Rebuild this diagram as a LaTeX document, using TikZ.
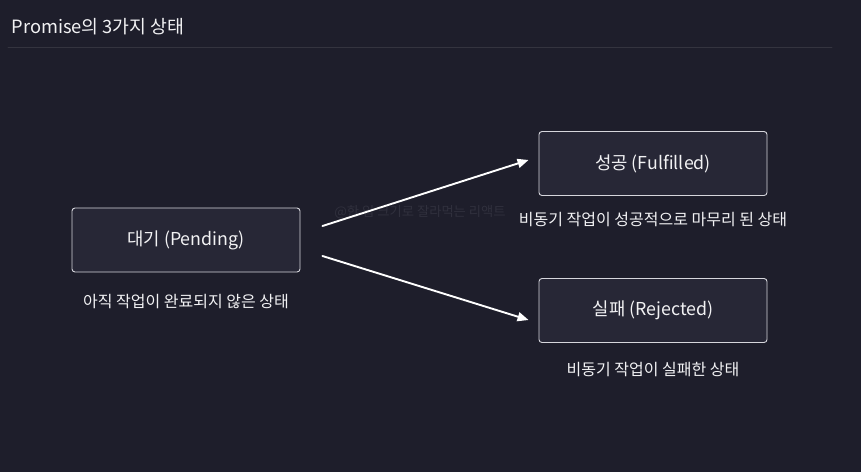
\documentclass[tikz,border=0pt]{standalone}
\usepackage{fontspec}
\setmainfont{Noto Sans CJK KR}
\usepackage{xcolor}
\usetikzlibrary{arrows.meta}
\definecolor{bgdark}{HTML}{1E1E2B}
\definecolor{boxfill}{HTML}{272736}
\definecolor{boxline}{HTML}{D6D6DC}
\definecolor{rulegray}{HTML}{34343F}
\definecolor{txt}{HTML}{F2F2F4}
\definecolor{mark}{HTML}{30303D}

\begin{document}
\begin{tikzpicture}[x=1pt, y=-1pt, line cap=round, line join=round,
  state/.style={draw=boxline, fill=boxfill, rounded corners=3pt, line width=0.9pt,
    minimum width=228pt, minimum height=64pt, text=txt,
    font=\fontsize{17.8}{21}\selectfont},
  note/.style={text=txt, font=\fontsize{16}{19}\selectfont},
  arr/.style={draw=white, line width=1.9pt, -{Triangle[length=11pt,width=9pt]}}]

% background
\fill[bgdark] (0,0) rectangle (861,472);

% header
\node[anchor=west, text=txt, font=\fontsize{18.3}{22}\selectfont] (title) at (8,27) {Promise의 3가지 상태};
\draw[rulegray, line width=0.8pt] (8,47) -- (832,47);

% watermark
\node[text=mark, font=\fontsize{13.3}{16}\selectfont] (wm) at (420,212) {@한 입 크기로 잘라먹는 리액트};

% states
\node[state] (pending) at (186,240) {대기 (Pending)};
\node[state] (ok) at (653,163.5) {성공 (Fulfilled)};
\node[state] (fail) at (653,310.5) {실패 (Rejected)};

% descriptions
\node[note] (pendingtxt) at (186,302) {아직 작업이 완료되지 않은 상태};
\node[note] (oktxt) at (653,220) {비동기 작업이 성공적으로 마무리 된 상태};
\node[note] (failtxt) at (653,370) {비동기 작업이 실패한 상태};

% transitions
\draw[arr] ([xshift=22pt,yshift=14pt]pending.east) -- ([xshift=-10pt,yshift=3.5pt]ok.west);
\draw[arr] ([xshift=22pt,yshift=-16pt]pending.east) -- ([xshift=-10pt,yshift=-9.5pt]fail.west);

\end{tikzpicture}
\end{document}
